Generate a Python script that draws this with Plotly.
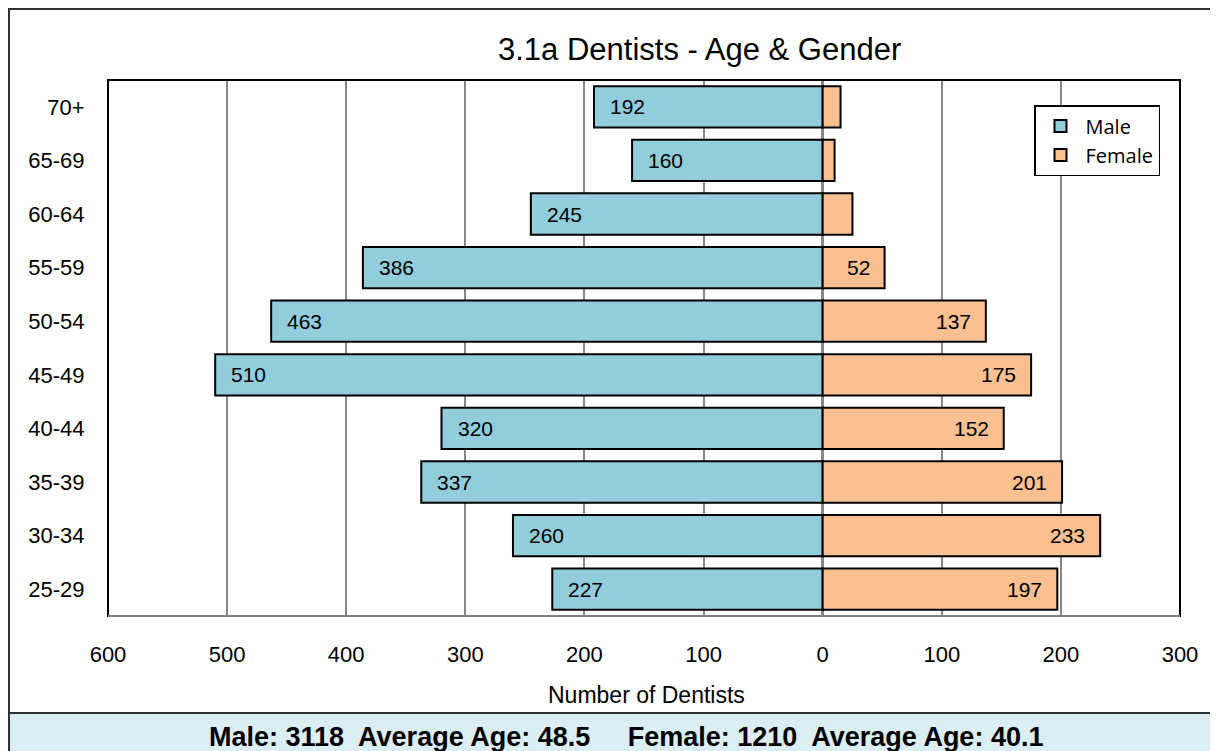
import plotly.graph_objects as go

age_groups = ["25-29", "30-34", "35-39", "40-44", "45-49", "50-54", "55-59", "60-64", "65-69", "70+"]
male = [227, 260, 337, 320, 510, 463, 386, 245, 160, 192]
female = [197, 233, 201, 152, 175, 137, 52, 25, 10, 15]
x_ticks = [-600, -500, -400, -300, -200, -100, 0, 100, 200, 300]
x_tick_labels = ["600", "500", "400", "300", "200", "100", "0", "100", "200", "300"]
title_text = "3.1a Dentists - Age & Gender"
axis_title = "Number of Dentists"
summary_text = "Male: 3118  Average Age: 48.5     Female: 1210  Average Age: 40.1"

MALE_COLOR = "#92CDDC"
FEMALE_COLOR = "#FAC090"
FONT = "Liberation Sans, Arial, sans-serif"

fig = go.Figure()
fig.add_trace(go.Bar(
    y=age_groups, x=[-v for v in male], orientation="h", name="Male",
    marker=dict(color=MALE_COLOR, line=dict(color="black", width=2)),
    hoverinfo="skip",
))
fig.add_trace(go.Bar(
    y=age_groups, x=female, orientation="h", name="Female",
    marker=dict(color=FEMALE_COLOR, line=dict(color="black", width=2)),
    hoverinfo="skip",
))

annotations = []
for g, v in zip(age_groups, male):
    annotations.append(dict(x=-v, y=g, xref="x", yref="y", text=str(v), showarrow=False,
                            xanchor="left", xshift=14, font=dict(family=FONT, size=21, color="black")))
for g, v in zip(age_groups, female):
    if v >= 50:
        annotations.append(dict(x=v, y=g, xref="x", yref="y", text=str(v), showarrow=False,
                                xanchor="right", xshift=-13, font=dict(family=FONT, size=21, color="black")))

# page geometry (figure sits at page offset 8,8): plot area x 108..1180, y 80..616
def px_x(p):
    return (p - 108) / 1072.0

def px_y(p):
    return (616 - p) / 536.0

annotations.append(dict(x=px_x(699), y=px_y(50), xref="paper", yref="paper", text=title_text,
                        showarrow=False, xanchor="center", yanchor="middle",
                        font=dict(family=FONT, size=31, color="black")))
annotations.append(dict(x=px_x(646), y=px_y(695), xref="paper", yref="paper", text=axis_title,
                        showarrow=False, xanchor="center", yanchor="middle",
                        font=dict(family=FONT, size=23, color="black")))
annotations.append(dict(x=px_x(626), y=px_y(737), xref="paper", yref="paper", text="<b>" + summary_text + "</b>",
                        showarrow=False, xanchor="center", yanchor="middle",
                        font=dict(family=FONT, size=27, color="black")))

shapes = [
    # summary box
    dict(type="rect", xref="paper", yref="paper", x0=px_x(8), x1=px_x(1217), y0=px_y(713), y1=px_y(770),
         fillcolor="#DAEEF3", line=dict(color="#303030", width=2), layer="below"),
    # outer frame
    dict(type="rect", xref="paper", yref="paper", x0=px_x(9), x1=px_x(1217), y0=px_y(770), y1=px_y(9),
         fillcolor="rgba(0,0,0,0)", line=dict(color="#303030", width=2)),
    # plot area frame
    dict(type="rect", xref="paper", yref="paper", x0=0, x1=1, y0=0, y1=1,
         fillcolor="rgba(0,0,0,0)", line=dict(color="black", width=2)),
    dict(type="line", xref="paper", yref="paper", x0=0, x1=1, y0=0, y1=0,
         line=dict(color="#808080", width=2)),
]

fig.update_layout(
    width=1210, height=743,
    margin=dict(l=100, r=38, t=72, b=135),
    paper_bgcolor="white", plot_bgcolor="white",
    barmode="relative", bargap=0.23,
    showlegend=True,
    legend=dict(x=px_x(1034), y=px_y(105), xanchor="left", yanchor="top",
                bgcolor="white", bordercolor="black", borderwidth=1.5,
                traceorder="normal", font=dict(family="Open Sans, sans-serif", size=20, color="black"),
                itemwidth=40, tracegroupgap=0),
    font=dict(family=FONT, color="black"),
    xaxis=dict(range=[-600, 300], tickvals=x_ticks, ticktext=x_tick_labels,
               showgrid=True, gridcolor="#878787", gridwidth=2,
               zeroline=True, zerolinecolor="#878787", zerolinewidth=2.5,
               ticks="outside", ticklen=19, tickcolor="rgba(0,0,0,0)",
               tickfont=dict(family=FONT, size=22, color="black"), fixedrange=True),
    yaxis=dict(categoryorder="array", categoryarray=age_groups,
               ticks="outside", ticklen=18, tickcolor="rgba(0,0,0,0)",
               tickfont=dict(family=FONT, size=22, color="black"), showgrid=False, fixedrange=True),
    annotations=annotations,
    shapes=shapes,
)

fig.write_html("out.html")
